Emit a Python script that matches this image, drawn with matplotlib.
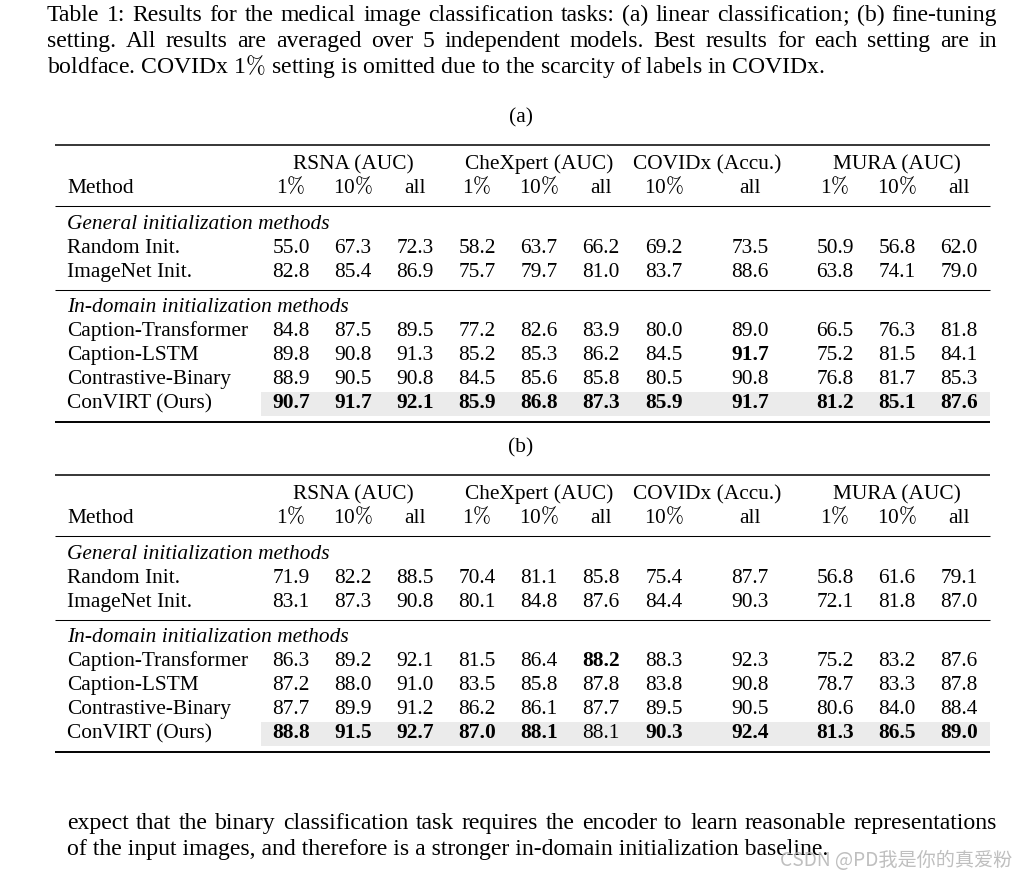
import matplotlib
matplotlib.use("Agg")
import matplotlib.pyplot as plt
from matplotlib.patches import Rectangle

plt.rcParams['mathtext.fontset'] = 'cm'
SERIF = 'Liberation Serif'

# ---------------- data ----------------
caption_lines = [
    "Table 1: Results for the medical image classification tasks: (a) linear classification; (b) fine-tuning",
    "setting.  All results are averaged over 5 independent models.  Best results for each setting are in",
    "boldface. COVIDx 1% setting is omitted due to the scarcity of labels in COVIDx.",
]
footer_lines = [
    "expect that the binary classification task requires the encoder to learn reasonable representations",
    "of the input images, and therefore is a stronger in-domain initialization baseline.",
]
watermark = "CSDN @PD我是你的真爱粉"

datasets = ["RSNA (AUC)", "CheXpert (AUC)", "COVIDx (Accu.)", "MURA (AUC)"]
dataset_cols = [3, 3, 2, 3]
col_labels = ["1%", "10%", "all", "1%", "10%", "all", "10%", "all", "1%", "10%", "all"]

section_titles = ["General initialization methods", "In-domain initialization methods"]
general_methods = ["Random Init.", "ImageNet Init."]
indomain_methods = ["Caption-Transformer", "Caption-LSTM", "Contrastive-Binary", "ConVIRT (Ours)"]

lin_random = [55.0, 67.3, 72.3, 58.2, 63.7, 66.2, 69.2, 73.5, 50.9, 56.8, 62.0]
lin_imagenet = [82.8, 85.4, 86.9, 75.7, 79.7, 81.0, 83.7, 88.6, 63.8, 74.1, 79.0]
lin_captr = [84.8, 87.5, 89.5, 77.2, 82.6, 83.9, 80.0, 89.0, 66.5, 76.3, 81.8]
lin_caplstm = [89.8, 90.8, 91.3, 85.2, 85.3, 86.2, 84.5, 91.7, 75.2, 81.5, 84.1]
lin_contr = [88.9, 90.5, 90.8, 84.5, 85.6, 85.8, 80.5, 90.8, 76.8, 81.7, 85.3]
lin_convirt = [90.7, 91.7, 92.1, 85.9, 86.8, 87.3, 85.9, 91.7, 81.2, 85.1, 87.6]

ft_random = [71.9, 82.2, 88.5, 70.4, 81.1, 85.8, 75.4, 87.7, 56.8, 61.6, 79.1]
ft_imagenet = [83.1, 87.3, 90.8, 80.1, 84.8, 87.6, 84.4, 90.3, 72.1, 81.8, 87.0]
ft_captr = [86.3, 89.2, 92.1, 81.5, 86.4, 88.2, 88.3, 92.3, 75.2, 83.2, 87.6]
ft_caplstm = [87.2, 88.0, 91.0, 83.5, 85.8, 87.8, 83.8, 90.8, 78.7, 83.3, 87.8]
ft_contr = [87.7, 89.9, 91.2, 86.2, 86.1, 87.7, 89.5, 90.5, 80.6, 84.0, 88.4]
ft_convirt = [88.8, 91.5, 92.7, 87.0, 88.1, 88.1, 90.3, 92.4, 81.3, 86.5, 89.0]

tables = [
    ("(a)", [lin_random, lin_imagenet], [lin_captr, lin_caplstm, lin_contr, lin_convirt]),
    ("(b)", [ft_random, ft_imagenet], [ft_captr, ft_caplstm, ft_contr, ft_convirt]),
]

# ---------------- layout ----------------
W, H = 1030, 876
fig = plt.figure(figsize=(W / 100, H / 100), dpi=100)
ax = fig.add_axes([0, 0, 1, 1])
ax.set_xlim(0, W)
ax.set_ylim(H, 0)
ax.axis('off')
renderer = fig.canvas.get_renderer()

FS = 15.4
CFS = 17.1
col_x = [291, 353, 415, 477, 539, 601, 664, 750, 835, 897, 959]
method_x = 67
rule_x0, rule_x1 = 55, 990


def mt(s):
    return s.replace('%', r'$\%$')


def width_of(s, fs, **kw):
    t = ax.text(0, 0, s, fontsize=fs, family=SERIF, **kw)
    w = t.get_window_extent(renderer).width
    t.remove()
    return w


def put_word(x, y, w, fs):
    # draw trailing ';' separately so every piece shares the same baseline
    if w.endswith(';'):
        head = w[:-1]
        ax.text(x, y, head, fontsize=fs, family=SERIF, ha='left', va='baseline')
        ax.text(x + width_of(head, fs) + 0.5, y, ';', fontsize=fs, family=SERIF,
                ha='left', va='baseline')
    else:
        ax.text(x, y, w, fontsize=fs, family=SERIF, ha='left', va='baseline')


def justify(line, x0, x1, y, fs):
    words = [mt(w) for w in line.split()]
    widths = [width_of(w, fs) for w in words]
    gap = (x1 - x0 - sum(widths)) / (len(words) - 1)
    x = x0
    for w, wd in zip(words, widths):
        put_word(x, y, w, fs)
        x += wd + gap


# caption
justify(caption_lines[0], 47, 997, 21, CFS)
justify(caption_lines[1], 47, 997, 47, CFS)
ax.text(47, 73, mt(caption_lines[2]), fontsize=CFS, family=SERIF, ha='left', va='baseline')

offset = 0
for label, gen_rows, ind_rows in tables:
    ax.text(521, 122 + offset, label, fontsize=FS, family=SERIF, ha='center', va='baseline')
    top = 145 + offset
    ax.plot([rule_x0, rule_x1], [top, top], color='black', lw=1.1, solid_capstyle='butt')
    # header
    ci = 0
    for name, n in zip(datasets, dataset_cols):
        cx = (col_x[ci] + col_x[ci + n - 1]) / 2
        ax.text(cx, 169 + offset, name, fontsize=FS, family=SERIF, ha='center', va='baseline')
        ci += n
    ax.text(method_x, 193 + offset, "Method", fontsize=FS, family=SERIF, ha='left', va='baseline')
    for x, c in zip(col_x, col_labels):
        ax.text(x, 193 + offset, mt(c), fontsize=FS, family=SERIF, ha='center', va='baseline')
    ax.plot([rule_x0, rule_x1], [206 + offset] * 2, color='black', lw=0.75, solid_capstyle='butt')

    all_rows = gen_rows + ind_rows
    col_max = [max(r[j] for r in all_rows) for j in range(len(col_x))]

    # section 1
    ax.text(method_x, 229 + offset, section_titles[0], fontsize=FS, family=SERIF,
            style='italic', ha='left', va='baseline')
    y = 253 + offset
    for name, row in zip(general_methods, gen_rows):
        ax.text(method_x, y, name, fontsize=FS, family=SERIF, ha='left', va='baseline')
        for x, v, m in zip(col_x, row, col_max):
            ax.text(x, y, f"{v:.1f}", fontsize=FS, family=SERIF, ha='center', va='baseline',
                    weight='bold' if v == m else 'normal')
        y += 24
    ax.plot([rule_x0, rule_x1], [289.5 + offset] * 2, color='black', lw=0.75, solid_capstyle='butt')

    # section 2
    ax.text(method_x, 312 + offset, section_titles[1], fontsize=FS, family=SERIF,
            style='italic', ha='left', va='baseline')
    y = 336 + offset
    for i, (name, row) in enumerate(zip(indomain_methods, ind_rows)):
        if i == len(ind_rows) - 1:
            ax.add_patch(Rectangle((261, y - 16), rule_x1 - 261, 24, facecolor='#ebebeb',
                                   edgecolor='none', zorder=0))
        ax.text(method_x, y, name, fontsize=FS, family=SERIF, ha='left', va='baseline')
        for x, v, m in zip(col_x, row, col_max):
            ax.text(x, y, f"{v:.1f}", fontsize=FS, family=SERIF, ha='center', va='baseline',
                    weight='bold' if v == m else 'normal')
        y += 24
    ax.plot([rule_x0, rule_x1], [421.5 + offset] * 2, color='black', lw=1.4, solid_capstyle='butt')
    offset += 330

# footer
justify(footer_lines[0], 67, 997, 829, CFS)
ax.text(67, 855, footer_lines[1], fontsize=CFS, family=SERIF, ha='left', va='baseline')

ax.text(780, 866, watermark, fontsize=13.8, family=['Noto Sans CJK SC', 'DejaVu Sans'],
        color='#b4b4b4', alpha=0.85, ha='left', va='baseline', zorder=5)

fig.savefig("out.png", dpi=100)
